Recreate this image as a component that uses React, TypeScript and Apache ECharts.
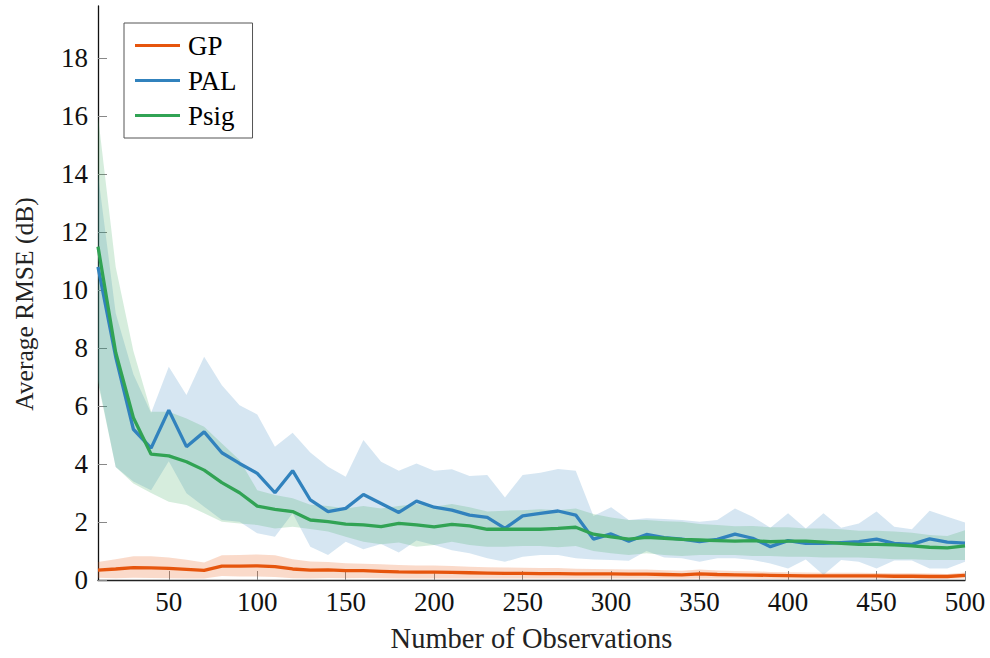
import React, { useEffect, useRef } from "react";
import * as echarts from "echarts";

const observations = [
  10, 20, 30, 40, 50, 60, 70, 80, 90, 100,
  110, 120, 130, 140, 150, 160, 170, 180, 190, 200,
  210, 220, 230, 240, 250, 260, 270, 280, 290, 300,
  310, 320, 330, 340, 350, 360, 370, 380, 390, 400,
  410, 420, 430, 440, 450, 460, 470, 480, 490, 500,
];

const xTicks = [50, 100, 150, 200, 250, 300, 350, 400, 450, 500];
const yTicks = [0, 2, 4, 6, 8, 10, 12, 14, 16, 18];

const gpMean = [
  0.34, 0.38, 0.43, 0.42, 0.40, 0.37, 0.33, 0.48, 0.48, 0.49,
  0.46, 0.38, 0.34, 0.35, 0.32, 0.32, 0.30, 0.28, 0.27, 0.27,
  0.26, 0.25, 0.24, 0.23, 0.23, 0.22, 0.22, 0.21, 0.21, 0.21,
  0.20, 0.20, 0.19, 0.18, 0.21, 0.19, 0.18, 0.17, 0.16, 0.15,
  0.14, 0.14, 0.14, 0.14, 0.14, 0.13, 0.13, 0.12, 0.12, 0.16,
];
const gpUpper = [
  0.62, 0.72, 0.82, 0.82, 0.78, 0.70, 0.60, 0.85, 0.86, 0.88,
  0.85, 0.72, 0.64, 0.62, 0.58, 0.56, 0.54, 0.52, 0.50, 0.50,
  0.48, 0.46, 0.44, 0.43, 0.42, 0.41, 0.41, 0.39, 0.38, 0.37,
  0.36, 0.36, 0.34, 0.32, 0.36, 0.33, 0.31, 0.30, 0.28, 0.27,
  0.26, 0.25, 0.25, 0.25, 0.24, 0.23, 0.23, 0.22, 0.21, 0.26,
];
const gpLower = [
  0.08, 0.06, 0.08, 0.07, 0.06, 0.05, 0.05, 0.14, 0.12, 0.12,
  0.10, 0.06, 0.05, 0.07, 0.06, 0.07, 0.06, 0.05, 0.05, 0.05,
  0.05, 0.05, 0.05, 0.05, 0.05, 0.05, 0.05, 0.05, 0.05, 0.05,
  0.05, 0.05, 0.05, 0.04, 0.05, 0.05, 0.05, 0.04, 0.04, 0.04,
  0.04, 0.04, 0.04, 0.04, 0.04, 0.04, 0.04, 0.04, 0.04, 0.05,
];

const palMean = [
  10.8, 7.7, 5.2, 4.55, 5.86, 4.6, 5.11, 4.39, 4.02, 3.68,
  3.01, 3.77, 2.76, 2.36, 2.47, 2.95, 2.64, 2.33, 2.72, 2.51,
  2.41, 2.24, 2.16, 1.78, 2.21, 2.3, 2.38, 2.24, 1.41, 1.59,
  1.34, 1.57, 1.46, 1.41, 1.32, 1.40, 1.58, 1.44, 1.15, 1.36,
  1.26, 1.26, 1.29, 1.32, 1.41, 1.26, 1.23, 1.42, 1.31, 1.27,
];
const palUpper = [
  14.0, 9.2, 7.1, 5.76, 7.36, 6.38, 7.7, 6.72, 6.03, 5.71,
  4.6, 5.08, 4.4, 3.91, 3.56, 4.83, 4.08, 3.77, 4.02, 3.77,
  3.82, 3.59, 3.62, 2.85, 3.62, 3.7, 3.83, 3.77, 2.21, 2.51,
  2.07, 2.13, 2.10, 2.07, 2.01, 2.07, 2.47, 2.18, 1.80, 2.30,
  1.78, 2.30, 1.80, 1.95, 2.36, 1.84, 1.75, 2.39, 2.18, 1.98,
];
const palLower = [
  6.9, 3.9, 3.4, 3.1, 4.1, 2.99, 2.53, 2.07, 2.01, 1.61,
  1.49, 2.3, 1.15, 0.86, 1.32, 1.06, 1.24, 0.95, 1.36, 1.21,
  1.03, 0.92, 0.75, 0.63, 0.80, 0.86, 0.86, 0.75, 0.71, 0.69,
  0.66, 1.0, 0.78, 0.75, 0.63, 0.75, 0.75, 0.69, 0.57, 0.40,
  0.71, 0.17, 0.69, 0.63, 0.40, 0.67, 0.67, 0.40, 0.40, 0.63,
];

const psigMean = [
  11.5, 7.85, 5.6, 4.34, 4.28, 4.08, 3.79, 3.36, 3.01, 2.55,
  2.44, 2.36, 2.07, 2.01, 1.93, 1.90, 1.84, 1.95, 1.90, 1.83,
  1.92, 1.87, 1.75, 1.75, 1.75, 1.75, 1.78, 1.82, 1.58, 1.49,
  1.41, 1.47, 1.44, 1.40, 1.38, 1.36, 1.34, 1.36, 1.32, 1.34,
  1.34, 1.31, 1.26, 1.23, 1.23, 1.21, 1.18, 1.13, 1.11, 1.18,
];
const psigUpper = [
  16.0, 10.8, 7.9, 5.8, 5.8, 5.57, 5.29, 4.71, 4.14, 3.10,
  2.93, 2.82, 2.6, 2.55, 2.47, 2.55, 2.47, 2.55, 2.62, 2.53,
  2.62, 2.51, 2.36, 2.39, 2.41, 2.44, 2.41, 2.47, 2.28, 2.16,
  2.07, 2.07, 2.03, 2.01, 1.93, 1.90, 1.85, 1.86, 1.82, 1.82,
  1.78, 1.78, 1.75, 1.70, 1.70, 1.67, 1.63, 1.55, 1.52, 1.72,
];
const psigLower = [
  6.8, 3.9, 3.33, 3.0, 2.7, 2.59, 2.30, 2.01, 1.95, 1.90,
  1.78, 1.84, 1.76, 1.67, 1.49, 1.32, 1.23, 1.29, 1.15, 1.21,
  1.32, 1.21, 1.15, 1.15, 1.17, 1.17, 1.13, 1.17, 1.0, 0.92,
  0.86, 0.92, 0.86, 0.83, 0.86, 0.86, 0.86, 0.83, 0.83, 0.80,
  0.80, 0.78, 0.78, 0.78, 0.75, 0.72, 0.72, 0.69, 0.69, 0.69,
];

const FONT = "'Liberation Serif', 'Times New Roman', serif";
const COLORS = { GP: "#e6550d", PAL: "#3182bd", Psig: "#31a354" };
const BAND = {
  GP: "rgba(230,85,13,0.22)",
  PAL: "rgba(49,130,189,0.2)",
  Psig: "rgba(49,163,84,0.2)",
};

function pairs(ys: number[]) {
  return observations.map((x, i) => [x, ys[i]]);
}

function bandSeries(key: string, lower: number[], upper: number[], color: string) {
  return {
    name: key + "-band",
    type: "custom",
    silent: true,
    z: 1,
    data: observations.map((x, i) => [x, lower[i], upper[i]]),
    encode: { x: 0, y: [1, 2] },
    renderItem: (params: any, api: any) => {
      if (params.dataIndex !== 0) return null;
      const pts: number[][] = [];
      for (let i = 0; i < observations.length; i++) {
        pts.push(api.coord([observations[i], upper[i]]));
      }
      for (let i = observations.length - 1; i >= 0; i--) {
        pts.push(api.coord([observations[i], lower[i]]));
      }
      return {
        type: "polygon",
        shape: { points: pts },
        style: { fill: color, stroke: "none" },
      };
    },
  };
}

function lineSeries(name: string, ys: number[], color: string) {
  return {
    name,
    type: "line",
    data: pairs(ys),
    symbol: "none",
    lineStyle: { width: 3.3, color },
    itemStyle: { color },
    z: 3,
  };
}

export default function App() {
  const ref = useRef<HTMLDivElement>(null);
  useEffect(() => {
    if (!ref.current) return;
    const chart = echarts.init(ref.current, undefined, { renderer: "svg" });
    chart.setOption({
      animation: false,
      backgroundColor: "#ffffff",
      textStyle: { fontFamily: FONT },
      grid: { left: 98, right: 25, top: 6, bottom: 78 },
      legend: {
        data: ["GP", "PAL", "Psig"],
        orient: "vertical",
        left: 124,
        top: 23,
        icon: "rect",
        itemWidth: 45,
        itemHeight: 3,
        itemGap: 8,
        padding: [9, 16, 9, 11],
        borderColor: "#555555",
        borderWidth: 1,
        borderRadius: 0,
        backgroundColor: "#ffffff",
        textStyle: {
          fontFamily: FONT,
          fontSize: 27,
          lineHeight: 27,
          color: "#000",
          padding: [0, 0, 0, 3],
        },
      },
      xAxis: {
        type: "value",
        min: 10,
        max: 500,
        name: "Number of Observations",
        nameLocation: "middle",
        nameGap: 44,
        nameTextStyle: { fontFamily: FONT, fontSize: 28.5, color: "#222" },
        axisLine: { show: true, onZero: false, lineStyle: { color: "#222", width: 1.3 } },
        axisTick: {
          show: true,
          inside: true,
          length: 9,
          customValues: xTicks,
          lineStyle: { color: "#888", width: 1 },
        },
        axisLabel: {
          customValues: xTicks,
          fontFamily: FONT,
          fontSize: 27,
          color: "#111",
          margin: 8,
        },
        splitLine: { show: false },
      },
      yAxis: {
        type: "value",
        min: 0,
        max: 19.8,
        name: "Average RMSE (dB)",
        nameLocation: "middle",
        nameGap: 61,
        nameTextStyle: {
          fontFamily: FONT,
          fontSize: 25.5,
          color: "#222",
          padding: [0, 22, 0, 0],
        },
        axisLine: { show: true, onZero: false, lineStyle: { color: "#111", width: 1.3 } },
        axisTick: {
          show: true,
          inside: true,
          length: 9,
          customValues: yTicks,
          lineStyle: { color: "#888", width: 1 },
        },
        axisLabel: {
          customValues: yTicks,
          fontFamily: FONT,
          fontSize: 27,
          color: "#111",
          margin: 10,
        },
        splitLine: { show: false },
      },
      series: [
        bandSeries("gp", gpLower, gpUpper, BAND.GP),
        bandSeries("pal", palLower, palUpper, BAND.PAL),
        bandSeries("psig", psigLower, psigUpper, BAND.Psig),
        lineSeries("GP", gpMean, COLORS.GP),
        lineSeries("PAL", palMean, COLORS.PAL),
        lineSeries("Psig", psigMean, COLORS.Psig),
      ],
    });
    return () => chart.dispose();
  }, []);
  return (
    <div
      ref={ref}
      style={{ position: "fixed", left: 0, top: 0, width: 990, height: 658, background: "#fff" }}
    />
  );
}
